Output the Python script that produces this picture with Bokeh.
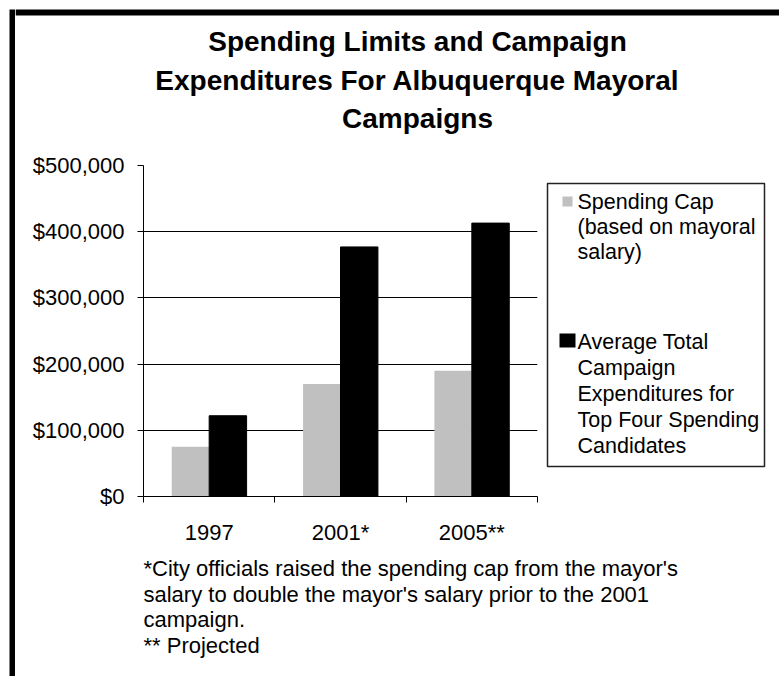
import numpy as np
from bokeh.plotting import figure
from bokeh.models import FixedTicker, NumeralTickFormatter, Range1d
from bokeh.layouts import column, row
from bokeh.core.properties import value
from bokeh.embed import file_html
from bokeh.resources import INLINE

# ---------------- data ----------------
categories = ["1997", "2001*", "2005**"]
spending_cap = [75000, 170000, 190000]
avg_expenditures = [122000, 377000, 413000]
y_ticks = [0, 100000, 200000, 300000, 400000, 500000]
grid_ticks = [100000, 200000, 300000, 400000]

title_lines = ["Spending Limits and Campaign",
               "Expenditures For Albuquerque Mayoral",
               "Campaigns"]
legend_cap = ["Spending Cap", "(based on mayoral", "salary)"]
legend_avg = ["Average Total", "Campaign", "Expenditures for",
              "Top Four Spending", "Candidates"]
footnotes = ["*City officials raised the spending cap from the mayor's",
             "salary to double the mayor's salary prior to the 2001",
             "campaign.",
             "** Projected"]

FONT = "Liberation Sans"
GRAY = "#C0C0C0"
AX_TXT = "22px"
LEG_TXT = "21.5px"
FOOT_TXT = "22px"

W, H = 779, 676
LEFT_W = 15
CW = W - LEFT_W
TITLE_H, MAIN_H = 150, 401
FOOT_H = H - TITLE_H - MAIN_H
MAIN_W = 529
LEG_W = CW - MAIN_W
BORDER_TOP, BORDER_BOTTOM = 15, 55


def blank(w, h, xr=None, yr=None, bt=0, bb=0):
    f = figure(width=w, height=h, output_backend="svg", toolbar_location=None,
               x_range=xr or Range1d(0, w), y_range=yr or Range1d(h, 0),
               x_axis_type=None, y_axis_type=None, min_border=0,
               min_border_top=bt, min_border_bottom=bb)
    f.outline_line_color = None
    f.background_fill_color = "white"
    f.border_fill_color = "white"
    f.grid.visible = False
    return f


def texts(f, lines, x, y0, dy, size, bold=False, align="left"):
    f.text(x=[x] * len(lines), y=[y0 + dy * i for i in range(len(lines))], text=lines,
           text_font=value(FONT), text_font_size=value(size),
           text_font_style="bold" if bold else "normal",
           text_align=align, text_baseline="middle", text_color="black")


# left strip with the thick frame bar
left_fig = blank(LEFT_W, H)
left_fig.quad(left=[9], right=[15], top=[9], bottom=[H], fill_color="black", line_color=None)

# title (with the top frame bar)
title_fig = blank(CW, TITLE_H)
title_fig.quad(left=[0], right=[CW], top=[9], bottom=[15], fill_color="black", line_color=None)
texts(title_fig, title_lines, 402, 41, 38.5, size="28px", bold=True, align="center")

# main chart
p = figure(width=MAIN_W, height=MAIN_H, output_backend="svg", toolbar_location=None,
           x_range=Range1d(0, len(categories)), y_range=Range1d(0, 500000),
           min_border_left=128, min_border_right=7,
           min_border_top=BORDER_TOP, min_border_bottom=BORDER_BOTTOM)
p.outline_line_color = None
p.background_fill_color = "white"
p.border_fill_color = "white"

xs = np.arange(len(categories)) + 0.5
bw = 0.285
p.vbar(x=xs - bw / 2, top=spending_cap, width=bw, fill_color=GRAY, line_color=None)
p.vbar(x=xs + bw / 2, top=avg_expenditures, width=bw, fill_color="black", line_color="black")

xa = p.xaxis[0]
xa.ticker = FixedTicker(ticks=list(xs), minor_ticks=list(range(len(categories) + 1)))
xa.major_label_overrides = {float(x): c for x, c in zip(xs, categories)}
xa.major_tick_line_color = None
xa.major_tick_out = 0
xa.major_tick_in = 0
xa.minor_tick_line_color = "black"
xa.minor_tick_out = 6
xa.minor_tick_in = 0
xa.axis_line_color = "black"
xa.major_label_text_font = FONT
xa.major_label_text_font_size = AX_TXT
xa.major_label_text_color = "black"
xa.major_label_standoff = 17

ya = p.yaxis[0]
ya.ticker = FixedTicker(ticks=y_ticks, minor_ticks=[])
ya.formatter = NumeralTickFormatter(format="$0,0")
ya.major_tick_out = 6
ya.major_tick_in = 0
ya.major_tick_line_color = "black"
ya.axis_line_color = "black"
ya.major_label_text_font = FONT
ya.major_label_text_font_size = AX_TXT
ya.major_label_text_color = "black"
ya.major_label_standoff = 13

p.xgrid.visible = False
p.ygrid.ticker = FixedTicker(ticks=grid_ticks)
p.ygrid.grid_line_color = "black"
p.ygrid.grid_line_width = 1

# legend panel: its frame lines up with the chart frame (page y 165..496)
page_top = TITLE_H + BORDER_TOP
page_bottom = TITLE_H + MAIN_H - BORDER_BOTTOM
leg_x0 = LEFT_W + MAIN_W
leg = blank(LEG_W, MAIN_H, xr=Range1d(leg_x0, leg_x0 + LEG_W),
            yr=Range1d(page_bottom, page_top), bt=BORDER_TOP, bb=BORDER_BOTTOM)
leg.quad(left=[547], right=[764], top=[183], bottom=[466],
         fill_color=None, line_color="#222222", line_width=1.5)
leg.quad(left=[562], right=[572], top=[196], bottom=[206], fill_color=GRAY, line_color=None)
leg.quad(left=[559], right=[575], top=[333], bottom=[347], fill_color="black", line_color=None)
texts(leg, legend_cap, 577, 201, 25, LEG_TXT)
texts(leg, legend_avg, 577, 341, 26, LEG_TXT)

# footnotes
foot = blank(CW, FOOT_H)
texts(foot, footnotes, 128, 17, 25.5, FOOT_TXT)

layout = row(left_fig, column(title_fig, row(p, leg), foot))

open("out.html", "w").write(file_html(layout, INLINE))
